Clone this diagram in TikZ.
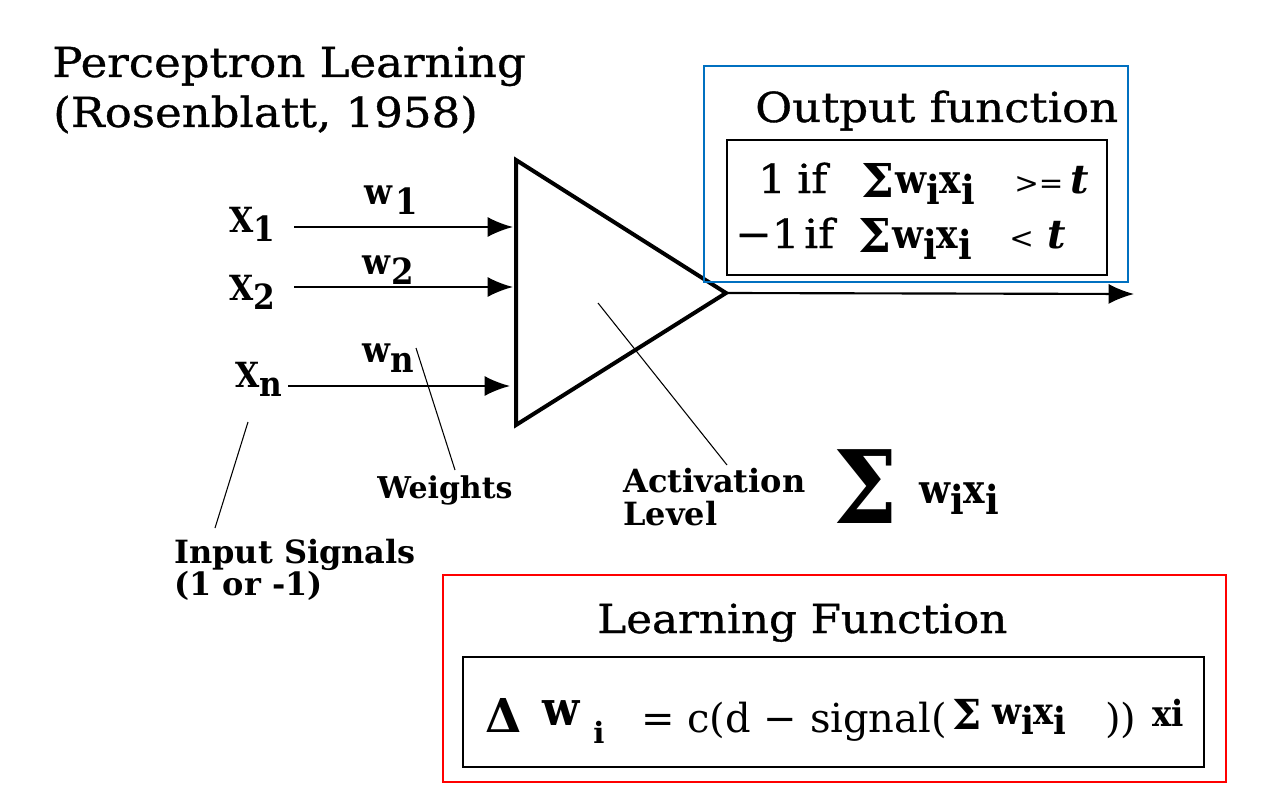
\documentclass[tikz,border=0pt]{standalone}
\usepackage{fontspec}
\setmainfont{DejaVu Serif}
\newfontfamily\cond{DejaVu Serif Condensed}
\newfontfamily\titlefont{DejaVu Serif}[FakeStretch=1.09,FakeBold=0.8]
\usetikzlibrary{arrows.meta}
\newcommand\lsub[1]{\raisebox{-0.28em}{#1}}
\begin{document}
\begin{tikzpicture}[x=0.75pt,y=-0.75pt,
  txt/.style={inner sep=0pt, anchor=base west},
  inarrow/.style={line width=1.6pt, -{Latex[length=19pt,width=15pt]}},
  leader/.style={line width=0.8pt},
  frame/.style={line width=1.6pt}]
\useasboundingbox (0,0) rectangle (1278,799);
\fill[white] (0,0) rectangle (1278,799);
% title
\node[txt, font=\titlefont\fontsize{31pt}{31pt}\selectfont] (title1) at (52,77) {Perceptron Learning};
\node[txt, font=\titlefont\fontsize{31pt}{31pt}\selectfont] (title2) at (53,127) {(Rosenblatt, 1958)};
% triangle
\coordinate (tl) at (516,160);
\coordinate (apex) at (726,293);
\coordinate (bl) at (516,425);
\draw[line width=3pt, line join=miter] (tl) -- (apex) -- (bl) -- cycle;
\coordinate (in1) at (513,227);
\coordinate (in2) at (513,287);
\coordinate (inn) at (510,386);
% inputs
\node[txt, font=\cond\bfseries\fontsize{26pt}{26pt}\selectfont] (x1) at (229,232) {X\lsub{1}};
\node[txt, font=\cond\bfseries\fontsize{26pt}{26pt}\selectfont] (x2) at (229,300) {X\lsub{2}};
\node[txt, font=\cond\bfseries\fontsize{26pt}{26pt}\selectfont] (xn) at (235,387) {X\lsub{n}};
\coordinate (s1) at (294,227);
\coordinate (s2) at (294,287);
\coordinate (sn) at (288,386);
\draw[inarrow] (s1) -- (in1);
\draw[inarrow] (s2) -- (in2);
\draw[inarrow] (sn) -- (inn);
% weights
\node[txt, font=\cond\bfseries\fontsize{27pt}{27pt}\selectfont] (w1) at (364,204) {w\hspace{0.1em}\lsub{1}};
\node[txt, font=\cond\bfseries\fontsize{27pt}{27pt}\selectfont] (w2) at (362,274) {w\hspace{0.05em}\lsub{2}};
\node[txt, font=\cond\bfseries\fontsize{27pt}{27pt}\selectfont] (wn) at (362,362) {w\lsub{n}};
% output
\coordinate (outend) at (1134,294);
\draw[inarrow] (apex) -- (outend);
% output function box
\draw[frame, draw={rgb,255:red,0;green,112;blue,192}] (704,66) rectangle (1128,282);
\node[txt, font=\titlefont\fontsize{31pt}{31pt}\selectfont] (oftitle) at (755,122) {Output function};
\draw[frame] (727,140) rectangle (1107,275);
\node[txt, font=\titlefont\fontsize{30pt}{30pt}\selectfont] (o1a) at (758,193) {1};
\node[txt, font=\titlefont\fontsize{30pt}{30pt}\selectfont] (o1b) at (797,193) {if};
\node[txt, font=\bfseries\fontsize{35pt}{35pt}\selectfont] (o1s) at (861,197) {Σ};
\node[txt, font=\cond\bfseries\fontsize{30pt}{30pt}\selectfont] (o1c) at (895,193) {w\lsub{i}x\lsub{i}};
\node[txt, font=\fontsize{22pt}{22pt}\selectfont] (o1d) at (1014,193) {>=};
\node[txt, font=\itshape\bfseries\fontsize{30pt}{30pt}\selectfont] (o1e) at (1070,193) {t};
\node[txt, font=\titlefont\fontsize{30pt}{30pt}\selectfont] (o2a) at (735,248) {−1};
\node[txt, font=\titlefont\fontsize{30pt}{30pt}\selectfont] (o2b) at (804,248) {if};
\node[txt, font=\bfseries\fontsize{35pt}{35pt}\selectfont] (o2s) at (858,252) {Σ};
\node[txt, font=\cond\bfseries\fontsize{30pt}{30pt}\selectfont] (o2c) at (892,248) {w\lsub{i}x\lsub{i}};
\node[txt, font=\fontsize{22pt}{22pt}\selectfont] (o2d) at (1009,248) {<};
\node[txt, font=\itshape\bfseries\fontsize{30pt}{30pt}\selectfont] (o2e) at (1047,248) {t};
% leaders and labels
\coordinate (la1) at (248,422);
\coordinate (la2) at (215,528);
\draw[leader] (la1) -- (la2);
\coordinate (lw1) at (416,348);
\coordinate (lw2) at (455,470);
\draw[leader] (lw1) -- (lw2);
\coordinate (lv1) at (598,303);
\coordinate (lv2) at (727,465);
\draw[leader] (lv1) -- (lv2);
\node[txt, font=\bfseries\fontsize{22.5pt}{22.5pt}\selectfont] (weights) at (377,498) {Weights};
\node[txt, font=\bfseries\fontsize{24pt}{24pt}\selectfont] (act1) at (623,492) {Activation};
\node[txt, font=\bfseries\fontsize{24pt}{24pt}\selectfont] (act2) at (623,525) {Level};
\node[txt, font=\cond\bfseries\fontsize{76pt}{76pt}\selectfont] (bigsum) at (833,523) {Σ};
\node[txt, font=\cond\bfseries\fontsize{30pt}{30pt}\selectfont] (wx) at (919,503) {w\lsub{i}x\lsub{i}};
\node[txt, font=\bfseries\fontsize{24pt}{24pt}\selectfont] (in1t) at (174,563) {Input Signals};
\node[txt, font=\bfseries\fontsize{24pt}{24pt}\selectfont] (in2t) at (174,595) {(1 or -1)};
% learning function
\draw[frame, draw={rgb,255:red,255;green,0;blue,0}] (443,575) rectangle (1226,782);
\node[txt, font=\titlefont\fontsize{30pt}{30pt}\selectfont] (lftitle) at (597,633) {Learning Function};
\draw[frame] (463,657) rectangle (1204,767);
\node[txt, font=\bfseries\fontsize{35pt}{35pt}\selectfont] (fdelta) at (485,732) {Δ};
\node[txt, font=\cond\bfseries\fontsize{36pt}{36pt}\selectfont] (fw) at (542,725) {w};
\node[txt, font=\bfseries\fontsize{22pt}{22pt}\selectfont] (fwi) at (593,743) {i};
\node[txt, font=\fontsize{30pt}{30pt}\selectfont] (fmid) at (641,732) {= c(d − signal(};
\node[txt, font=\bfseries\fontsize{31pt}{31pt}\selectfont] (fsum) at (952,729) {Σ};
\node[txt, font=\cond\bfseries\fontsize{28pt}{28pt}\selectfont] (fwx) at (992,724) {w\lsub{i}x\lsub{i}};
\node[txt, font=\fontsize{30pt}{30pt}\selectfont] (fpar) at (1105,732) {))};
\node[txt, font=\cond\bfseries\fontsize{27pt}{27pt}\selectfont] (fx) at (1152,726) {xi};
\end{tikzpicture}
\end{document}
